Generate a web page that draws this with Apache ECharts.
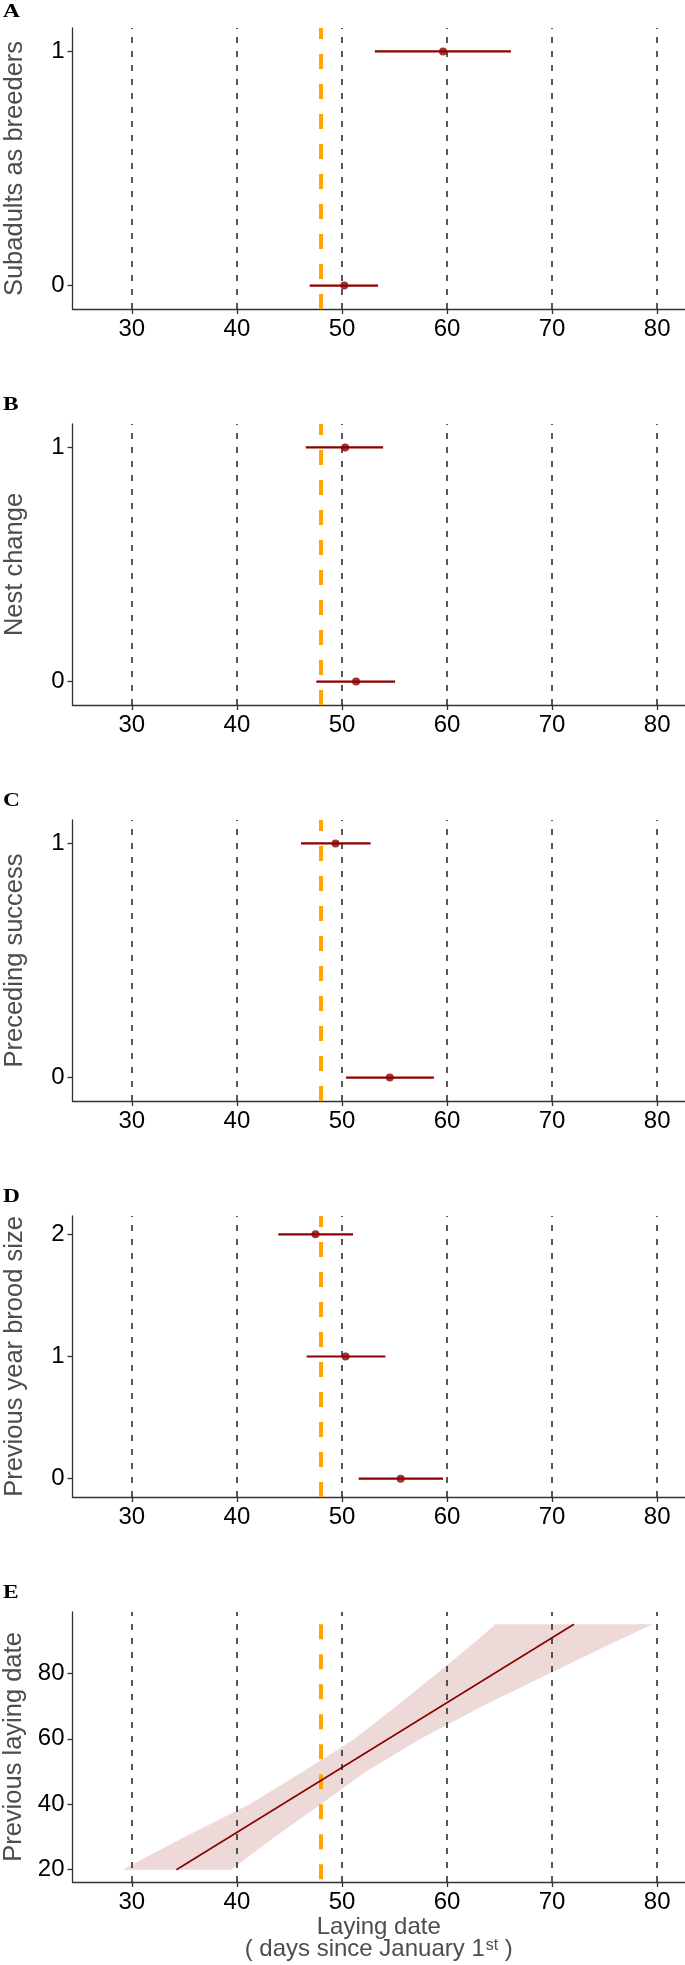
<!DOCTYPE html>
<html>
<head>
<meta charset="utf-8">
<script src="https://cdn.jsdelivr.net/npm/echarts@6/dist/echarts.min.js"></script>
<style>
html,body{margin:0;padding:0;background:#fff;}
#chart{width:685px;height:1965px;}
</style>
</head>
<body>
<div id="chart"></div>
<script>
// ---------------- data ----------------
const panelLabels = ['A', 'B', 'C', 'D', 'E'];
const yTitles = ['Subadults as breeders', 'Nest change', 'Preceding success', 'Previous year brood size', 'Previous laying date'];
const xTicks = [30, 40, 50, 60, 70, 80];
const refLines = [30, 40, 50, 60, 70, 80];
const meanLayingDate = 48;

// Panel A: Subadults as breeders
const levelsA = [0, 1];
const estA = [50.22, 59.62];
const loA = [46.93, 53.13];
const hiA = [53.43, 66.08];
// Panel B: Nest change
const levelsB = [0, 1];
const estB = [51.34, 50.30];
const loB = [47.56, 46.56];
const hiB = [55.05, 53.92];
// Panel C: Preceding success
const levelsC = [0, 1];
const estC = [54.55, 49.39];
const loC = [50.39, 46.10];
const hiC = [58.75, 52.72];
// Panel D: Previous year brood size
const levelsD = [0, 1, 2];
const estD = [55.59, 50.34, 47.48];
const loD = [51.59, 46.64, 43.94];
const hiD = [59.62, 54.13, 51.05];
// Panel E: Previous laying date (fit + confidence band)
const ribbonY = [20, 30, 40, 50, 60, 70, 80, 90, 95];
const ribbonXmin = [29.1, 35.0, 41.2, 46.3, 51.2, 55.2, 59.05, 62.8, 64.6];
const ribbonXmax = [39.45, 43.6, 48.0, 52.3, 57.5, 63.4, 69.8, 76.2, 79.6];
const fitY = [20, 95];
const fitX = [34.24, 72.08];

// y tick labels per panel
const yTicksA = [0, 1];
const yTicksB = [0, 1];
const yTicksC = [0, 1];
const yTicksD = [0, 1, 2];
const yTicksE = [20, 40, 60, 80];

// ---------------- layout / style ----------------
const FONT = "'Liberation Sans', Arial, Helvetica, sans-serif";
const DARKRED = '#8B0000';
const ORANGE = '#FFA500';
const AXIS = '#333333';
const xMin = 24.35, xMax = 82.65;
const gridTops = [28, 424, 820, 1216, 1612];
const gridHeights = [281, 281, 281, 281, 270];
const yRanges = [[-0.1, 1.1], [-0.1, 1.1], [-0.1, 1.1], [-0.15, 2.15], [16.25, 98.75]];
const yTickSets = [yTicksA, yTicksB, yTicksC, yTicksD, yTicksE];
const letterY = [12, 405.5, 801.5, 1197.5, 1593.5];

const cat = [
  {levels: levelsA, est: estA, lo: loA, hi: hiA},
  {levels: levelsB, est: estB, lo: loB, hi: hiB},
  {levels: levelsC, est: estC, lo: loC, hi: hiC},
  {levels: levelsD, est: estD, lo: loD, hi: hiD}
];

const grids = [], xAxes = [], yAxes = [], series = [], graphics = [];

for (let i = 0; i < 5; i++) {
  grids.push({left: 72.5, right: 0, top: gridTops[i], height: gridHeights[i], containLabel: false, outerBoundsMode: 'none'});
  const xa = {
    type: 'value', gridIndex: i, min: xMin, max: xMax,
    axisLine: {show: true, onZero: false, lineStyle: {color: AXIS, width: 1.3}},
    axisTick: {show: true, customValues: xTicks, length: 5, lineStyle: {color: AXIS, width: 1.3}},
    axisLabel: {show: true, customValues: xTicks, fontSize: 24, color: '#000', margin: 8, fontFamily: FONT},
    splitLine: {show: false}
  };
  if (i === 4) {
    xa.name = '{a|Laying date}\n{a|( days since January 1}{s|st}{a| )}';
    xa.nameLocation = 'middle';
    xa.nameGap = 26;
    xa.nameTextStyle = {
      color: '#4d4d4d', fontFamily: FONT, fontSize: 24, lineHeight: 22,
      rich: {
        a: {fontSize: 24, color: '#4d4d4d', fontFamily: FONT, lineHeight: 22},
        s: {fontSize: 16, color: '#4d4d4d', fontFamily: FONT, lineHeight: 22, verticalAlign: 'top', padding: [0, 0, 14, 1]}
      }
    };
  }
  xAxes.push(xa);
  yAxes.push({
    type: 'value', gridIndex: i, min: yRanges[i][0], max: yRanges[i][1],
    axisLine: {show: true, onZero: false, lineStyle: {color: AXIS, width: 1.3}},
    axisTick: {show: true, customValues: yTickSets[i], length: 5, lineStyle: {color: AXIS, width: 1.3}},
    axisLabel: {show: true, customValues: yTickSets[i], fontSize: 24, color: '#000', margin: 8, fontFamily: FONT},
    splitLine: {show: false},
    name: yTitles[i], nameLocation: 'middle', nameGap: 45,
    nameTextStyle: {fontSize: 25.5, color: '#4d4d4d', fontFamily: FONT}
  });

  // black dashed reference lines
  series.push({
    type: 'line', xAxisIndex: i, yAxisIndex: i, data: [], silent: true, z: 1,
    markLine: {
      silent: true, symbol: ['none', 'none'], label: {show: false}, animation: false,
      lineStyle: {color: '#222', width: 1.5, type: [6, 8], dashOffset: 0},
      emphasis: {disabled: true},
      data: refLines.map(v => ({xAxis: v}))
    }
  });

  graphics.push({
    type: 'text', x: 3, y: letterY[i], scaleX: 1.3, originX: 0,
    style: {text: panelLabels[i], fontFamily: "'Liberation Serif', 'Times New Roman', serif", fontWeight: 'bold', fontSize: 18, fill: '#000', align: 'left', verticalAlign: 'middle'}
  });
}

// categorical panels A-D
cat.forEach((p, i) => {
  // orange mean line
  series.push({
    type: 'line', xAxisIndex: i, yAxisIndex: i, data: [], silent: true, z: 3,
    markLine: {
      silent: true, symbol: ['none', 'none'], label: {show: false}, animation: false,
      lineStyle: {color: ORANGE, width: 4, type: [15, 15]},
      emphasis: {disabled: true},
      data: [{xAxis: meanLayingDate}]
    }
  });
  // error bars
  series.push({
    type: 'custom', xAxisIndex: i, yAxisIndex: i, z: 4, silent: true,
    data: p.levels.map((l, k) => [l, p.lo[k], p.hi[k]]),
    encode: {x: [1, 2], y: 0},
    renderItem: function (params, api) {
      const a = api.coord([api.value(1), api.value(0)]);
      const b = api.coord([api.value(2), api.value(0)]);
      return {type: 'line', shape: {x1: a[0], y1: a[1], x2: b[0], y2: b[1]}, style: {stroke: DARKRED, lineWidth: 2.2}};
    }
  });
  // points
  series.push({
    type: 'scatter', xAxisIndex: i, yAxisIndex: i, z: 5, silent: true,
    symbol: 'circle', symbolSize: 8, itemStyle: {color: DARKRED},
    data: p.levels.map((l, k) => [p.est[k], l])
  });
});

// panel E
series.push({
  type: 'custom', xAxisIndex: 4, yAxisIndex: 4, z: 2, silent: true,
  data: ribbonY.map((y, k) => [ribbonXmin[k], ribbonXmax[k], y]),
  encode: {x: [0, 1], y: 2},
  renderItem: function (params, api) {
    if (params.dataIndex !== 0) return null;
    const pts = [];
    for (let k = 0; k < ribbonY.length; k++) pts.push(api.coord([ribbonXmin[k], ribbonY[k]]));
    for (let k = ribbonY.length - 1; k >= 0; k--) pts.push(api.coord([ribbonXmax[k], ribbonY[k]]));
    return {type: 'polygon', shape: {points: pts}, style: {fill: 'rgba(139,0,0,0.15)', stroke: 'none'}};
  }
});
series.push({
  type: 'line', xAxisIndex: 4, yAxisIndex: 4, z: 3, silent: true, symbol: 'none',
  lineStyle: {color: ORANGE, width: 4, type: [15, 15]},
  data: [[meanLayingDate, ribbonY[ribbonY.length - 1]], [meanLayingDate, yRanges[4][0]]]
});
series.push({
  type: 'line', xAxisIndex: 4, yAxisIndex: 4, z: 4, silent: true, symbol: 'none',
  lineStyle: {color: DARKRED, width: 1.6},
  data: fitX.map((x, k) => [x, fitY[k]])
});

const chart = echarts.init(document.getElementById('chart'), null, {renderer: 'canvas'});
chart.setOption({
  animation: false,
  backgroundColor: '#fff',
  grid: grids, xAxis: xAxes, yAxis: yAxes, series: series, graphic: graphics
});
</script>
</body>
</html>
